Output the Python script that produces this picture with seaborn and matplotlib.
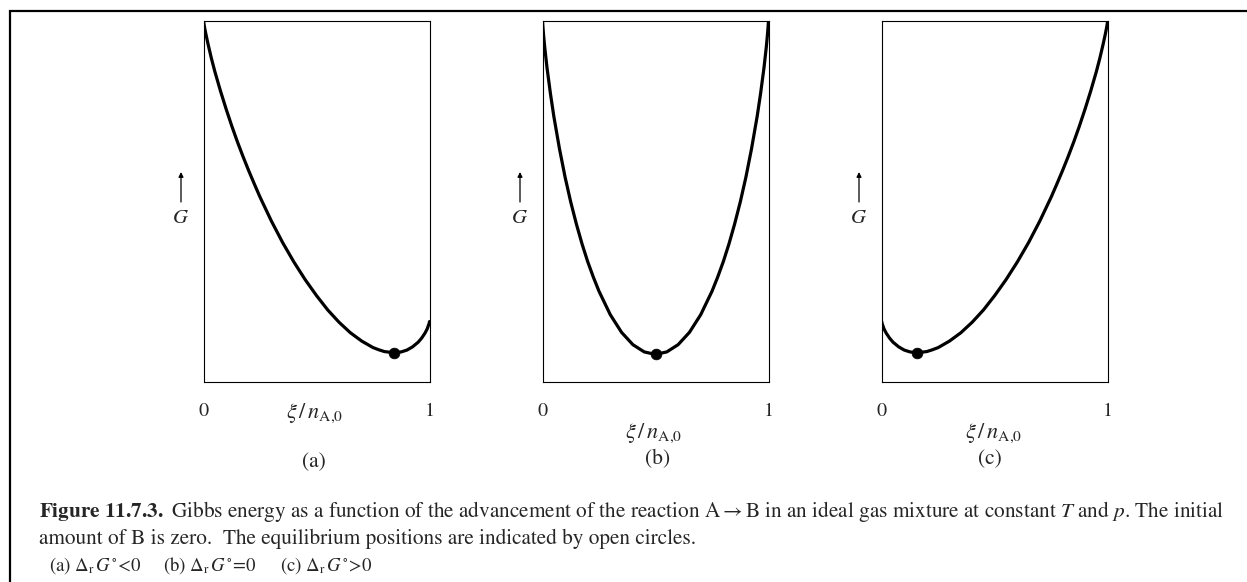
import matplotlib
matplotlib.use("Agg")
import numpy as np
import pandas as pd
import matplotlib.pyplot as plt
import seaborn as sns
from matplotlib.patches import Rectangle

# ---------------- data (normalised G vs xi/n_A0) -------------
xi = [0, 0.002, 0.005, 0.01, 0.02, 0.035, 0.05, 0.075, 0.1, 0.125, 0.15, 0.175, 0.2,
      0.225, 0.25, 0.3, 0.35, 0.4, 0.45, 0.5, 0.55, 0.6, 0.65, 0.7, 0.75, 0.775, 0.8,
      0.825, 0.85, 0.875, 0.9, 0.925, 0.95, 0.965, 0.98, 0.99, 0.995, 0.998, 1]

G_a = [1.000, 0.991, 0.980, 0.964, 0.935, 0.895, 0.859, 0.805, 0.755, 0.708, 0.664,
       0.623, 0.584, 0.547, 0.511, 0.445, 0.385, 0.331, 0.282, 0.238, 0.198, 0.164,
       0.135, 0.112, 0.094, 0.088, 0.083, 0.081, 0.080, 0.082, 0.087, 0.096, 0.109,
       0.120, 0.134, 0.146, 0.155, 0.160, 0.166]
G_b = [1.000, 0.981, 0.958, 0.925, 0.869, 0.798, 0.735, 0.645, 0.566, 0.497, 0.436,
       0.381, 0.332, 0.289, 0.250, 0.185, 0.136, 0.102, 0.082, 0.075, 0.082, 0.102,
       0.136, 0.185, 0.250, 0.289, 0.332, 0.381, 0.436, 0.497, 0.566, 0.645, 0.735,
       0.798, 0.869, 0.925, 0.958, 0.981, 1.000]
G_c = [0.166, 0.160, 0.155, 0.146, 0.134, 0.120, 0.109, 0.096, 0.087, 0.082, 0.080,
       0.081, 0.083, 0.088, 0.094, 0.112, 0.135, 0.164, 0.198, 0.238, 0.282, 0.331,
       0.385, 0.445, 0.511, 0.547, 0.584, 0.623, 0.664, 0.708, 0.755, 0.805, 0.859,
       0.895, 0.935, 0.964, 0.980, 0.991, 1.000]

eq_xi = [0.842, 0.500, 0.158]
eq_G = [0.080, 0.075, 0.080]

panel_labels = ["(a)", "(b)", "(c)"]
tick_labels = ["0", "1"]

# ---------------- style ----------------
sns.set_theme(style="white")
plt.rcParams["font.family"] = ["STIXGeneral", "DejaVu Serif"]
plt.rcParams["mathtext.fontset"] = "stix"

W, H = 1247, 582
fig = plt.figure(figsize=(W / 100, H / 100), dpi=100)


def fx(px):
    return px / W


def fy(py):
    return 1 - py / H


# outer frame (runs off the right and bottom edges)
fig.add_artist(Rectangle((fx(10), -0.2), 1.5, fy(10.5) + 0.2, transform=fig.transFigure,
                         fill=False, lw=1.6, ec="black", clip_on=False))

lefts = [203.5, 542.5, 881.7]
ax_w, ax_top, ax_bot = 226, 20.5, 381.5
G_series = [G_a, G_b, G_c]
xlab_y = [413, 433, 433]
xlab_x = [315, 654, 994]
plab_y = [462, 459, 459]
plab_x = [314, 658, 990]
glab_x = [181, 520, 859]

for i in range(3):
    L = lefts[i]
    ax = fig.add_axes([fx(L), fy(ax_bot), ax_w / W, (ax_bot - ax_top) / H])
    df = pd.DataFrame({"xi": xi, "G": G_series[i]})
    sns.lineplot(data=df, x="xi", y="G", ax=ax, color="black", lw=2.3,
                 sort=False, estimator=None)
    ax.lines[-1].set_solid_joinstyle("round")
    sns.scatterplot(x=[eq_xi[i]], y=[eq_G[i]], ax=ax, color="black", s=60,
                    edgecolor="black", linewidth=0.5, zorder=5)
    ax.set_xlim(0, 1)
    ax.set_ylim(0, 1)
    ax.set_xticks([])
    ax.set_yticks([])
    ax.set_xlabel("")
    ax.set_ylabel("")
    for s in ax.spines.values():
        s.set_visible(True)
        s.set_color("black")
        s.set_linewidth(0.8)

    # tick labels 0 and 1
    fig.text(fx(L), fy(411), tick_labels[0], ha="center", va="center", fontsize=14.5)
    fig.text(fx(L + ax_w), fy(411), tick_labels[1], ha="center", va="center", fontsize=14.5)
    # x label
    fig.text(fx(xlab_x[i]), fy(xlab_y[i]), r"$\xi\,/\,n_{\mathrm{A{,}0}}$",
             ha="center", va="center", fontsize=16)
    # panel label
    fig.text(fx(plab_x[i]), fy(plab_y[i]), panel_labels[i], ha="center", va="center",
             fontsize=15.5)
    # G with arrow
    fig.text(fx(glab_x[i]), fy(218), r"$G$", ha="center", va="center", fontsize=15)
    ax.annotate("", xy=(fx(glab_x[i]), fy(172)), xytext=(fx(glab_x[i]), fy(202)),
                xycoords="figure fraction", textcoords="figure fraction",
                annotation_clip=False,
                arrowprops=dict(arrowstyle="-|>", lw=0.9, color="black",
                                mutation_scale=7, shrinkA=0, shrinkB=0))

# caption
fs = 15.3
fig.text(fx(39), fy(511),
         r"$\mathbf{Figure\ 11.7.3.}$ Gibbs energy as a function of the advancement of the "
         r"reaction A$\rightarrow$B in an ideal gas mixture at constant $T$ and $p$. The initial",
         ha="left", va="center", fontsize=fs)
fig.text(fx(39), fy(539),
         "amount of B is zero.  The equilibrium positions are indicated by open circles.",
         ha="left", va="center", fontsize=fs)
fs3 = 13.5
fig.text(fx(49), fy(566), r"(a) $\Delta_{\rm r}\,G^{\circ}\!<\!0$", ha="left", va="center", fontsize=fs3)
fig.text(fx(163), fy(566), r"(b) $\Delta_{\rm r}\,G^{\circ}\!=\!0$", ha="left", va="center", fontsize=fs3)
fig.text(fx(280), fy(566), r"(c) $\Delta_{\rm r}\,G^{\circ}\!>\!0$", ha="left", va="center", fontsize=fs3)

fig.savefig("out.png", dpi=100)
